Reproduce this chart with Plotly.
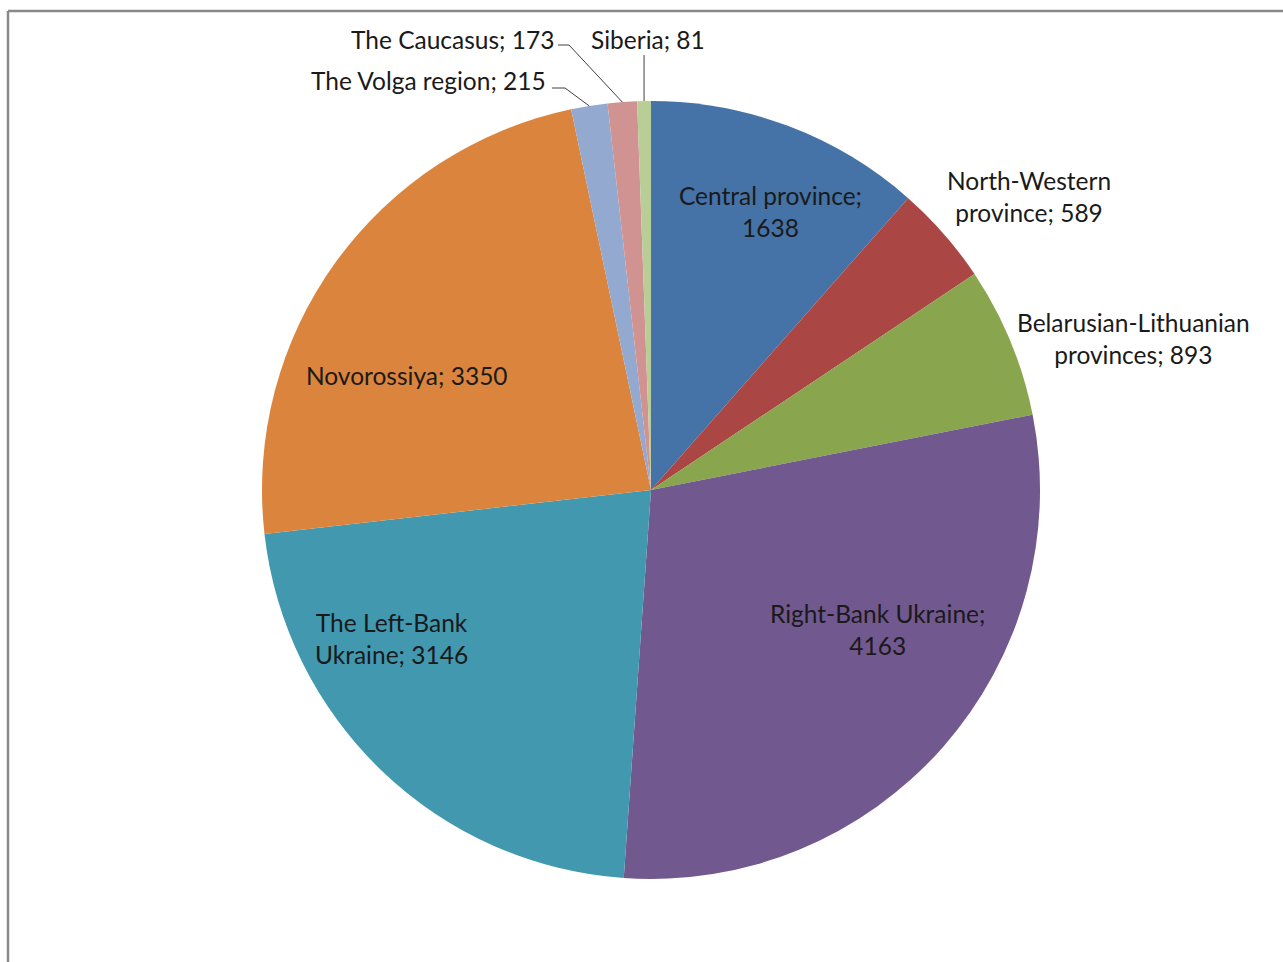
import math
import plotly.graph_objects as go

regions = ["Central province", "North-Western province", "Belarusian-Lithuanian provinces",
           "Right-Bank Ukraine", "The Left-Bank Ukraine", "Novorossiya",
           "The Volga region", "The Caucasus", "Siberia"]
values = [1638, 589, 893, 4163, 3146, 3350, 215, 173, 81]
colors = ["#4572A7", "#AA4643", "#89A54E", "#71588F", "#4198AF", "#DB843D",
          "#93A9CF", "#D19392", "#B9CD96"]

W, H = 1283, 962
CX, CY, R = 651, 490, 389


def px(x):
    return x / W


def py(y):
    return 1 - y / H


FONT = dict(family="Lato, Arial, sans-serif", size=24.5, color="#1a1a1a")

fig = go.Figure(go.Pie(
    labels=regions, values=values, sort=False, direction="clockwise", rotation=0,
    marker=dict(colors=colors, line=dict(width=0)),
    textinfo="none", hoverinfo="label+value", showlegend=False,
    domain=dict(x=[px(CX - R), px(CX + R)], y=[py(CY + R), py(CY - R)]),
))

# label layout: (text lines, centre x px, centre y px)
label_pos = {
    "Central province": (["Central province;", "{v}"], 770, 211),
    "North-Western province": (["North-Western", "province; {v}"], 1029, 197),
    "Belarusian-Lithuanian provinces": (["Belarusian-Lithuanian", "provinces; {v}"], 1133, 339),
    "Right-Bank Ukraine": (["Right-Bank Ukraine;", "{v}"], 878, 629),
    "The Left-Bank Ukraine": (["The Left-Bank", "Ukraine; {v}"], 392, 638),
    "Novorossiya": (["Novorossiya; {v}"], 407, 375),
}
annotations = []
for name, v in zip(regions, values):
    if name in label_pos:
        lines, x, y = label_pos[name]
        text = "<br>".join(l.format(v=v) for l in lines)
        annotations.append(dict(x=px(x), y=py(y), xref="paper", yref="paper", text=text,
                                showarrow=False, font=FONT, align="center",
                                xanchor="center", yanchor="middle"))

# small slices with leader lines
total = sum(values)
cum = 0
mids = {}
for name, v in zip(regions, values):
    mids[name] = (cum + v / 2) / total
    cum += v

def edge(name):
    a = 2 * math.pi * mids[name]
    return CX + R * math.sin(a), CY - R * math.cos(a)

shapes = []
line_style = dict(color="#404040", width=1)
# Volga
ex, ey = edge("The Volga region")
annotations.append(dict(x=px(548), y=py(81), xref="paper", yref="paper",
                        text="The Volga region; 215", showarrow=False, font=FONT,
                        xanchor="right", yanchor="middle"))
shapes.append(dict(type="path", xref="paper", yref="paper",
                   path=f"M {px(552)} {py(88)} L {px(565)} {py(88)} L {px(ex)} {py(ey)}",
                   line=line_style))
# Caucasus
ex, ey = edge("The Caucasus")
annotations.append(dict(x=px(556), y=py(39), xref="paper", yref="paper",
                        text="The Caucasus; 173", showarrow=False, font=FONT,
                        xanchor="right", yanchor="middle"))
shapes.append(dict(type="path", xref="paper", yref="paper",
                   path=f"M {px(558)} {py(45)} L {px(569)} {py(45)} L {px(ex)} {py(ey)}",
                   line=line_style))
# Siberia
ex, ey = edge("Siberia")
annotations.append(dict(x=px(648), y=py(39), xref="paper", yref="paper",
                        text="Siberia; 81", showarrow=False, font=FONT,
                        xanchor="center", yanchor="middle"))
shapes.append(dict(type="line", xref="paper", yref="paper",
                   x0=px(ex), y0=py(55), x1=px(ex), y1=py(ey), line=line_style))

# chart frame (top and left edges visible)
frame = dict(color="#898989", width=2.5)
shapes.append(dict(type="line", xref="paper", yref="paper", x0=px(8), y0=py(11), x1=1.01, y1=py(11), line=frame))
shapes.append(dict(type="line", xref="paper", yref="paper", x0=px(8), y0=py(11), x1=px(8), y1=-0.01, line=frame))

fig.update_layout(width=W, height=H, margin=dict(l=0, r=0, t=0, b=0),
                  paper_bgcolor="white", plot_bgcolor="white",
                  annotations=annotations, shapes=shapes)
fig.write_html("out.html")
